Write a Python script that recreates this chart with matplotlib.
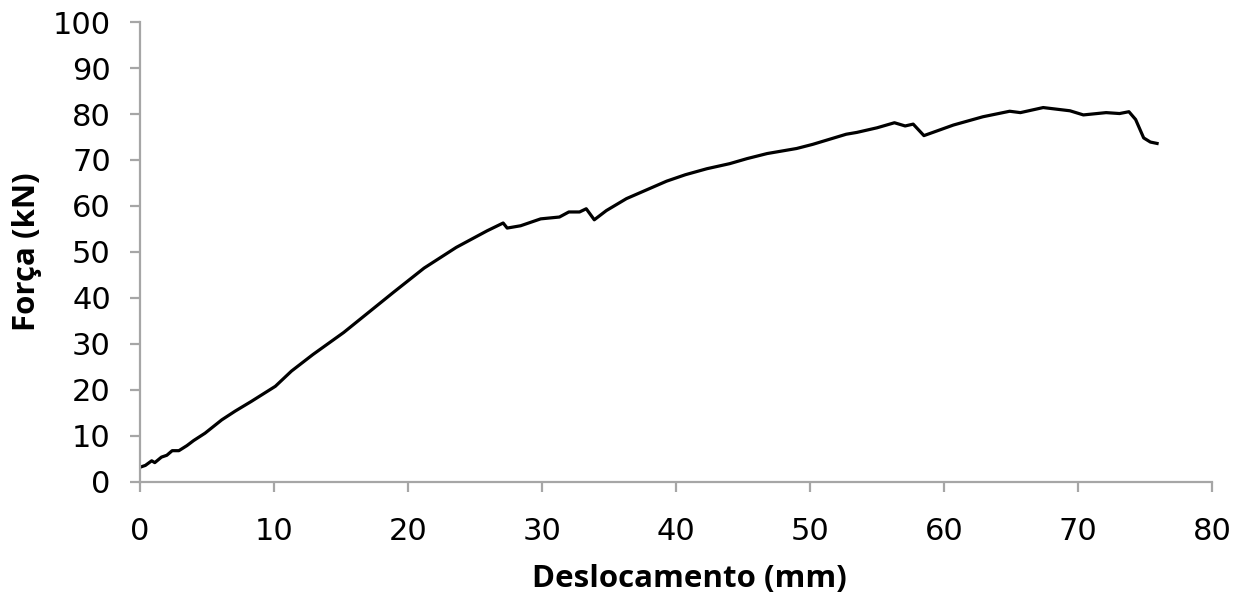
import matplotlib
matplotlib.use("Agg")
import matplotlib.pyplot as plt

desloc = [0.0, 0.4, 0.87, 1.1, 1.6, 2.0, 2.4, 2.9, 3.5, 4.0, 4.85, 6.1, 7.1, 8.3, 10.1,
          11.3, 12.9, 15.2, 17.2, 18.9, 21.2, 23.6, 25.9, 27.1, 27.4, 28.4, 29.9, 31.3,
          32.0, 32.8, 33.3, 33.9, 34.8, 36.3, 37.8, 39.3, 40.7, 42.3, 44.0, 45.3, 46.8,
          49.0, 50.2, 52.7, 53.5, 55.0, 56.3, 57.1, 57.7, 58.5, 60.7, 62.9, 64.9, 65.7,
          67.4, 69.4, 70.4, 72.1, 73.1, 73.8, 74.3, 74.9, 75.4, 75.9]
forca = [3.2, 3.6, 4.6, 4.2, 5.4, 5.8, 6.8, 6.8, 7.9, 9.0, 10.6, 13.5, 15.4, 17.5, 20.8,
         24.1, 27.7, 32.5, 37.2, 41.2, 46.5, 51.0, 54.6, 56.3, 55.2, 55.7, 57.2, 57.6,
         58.7, 58.7, 59.4, 57.0, 59.0, 61.6, 63.5, 65.4, 66.8, 68.1, 69.2, 70.3, 71.4,
         72.5, 73.4, 75.6, 76.0, 77.0, 78.1, 77.4, 77.8, 75.3, 77.6, 79.4, 80.6, 80.3,
         81.4, 80.7, 79.8, 80.3, 80.1, 80.5, 78.8, 74.8, 73.9, 73.6]

x_ticks = [0, 10, 20, 30, 40, 50, 60, 70, 80]
y_ticks = [0, 10, 20, 30, 40, 50, 60, 70, 80, 90, 100]

fig = plt.figure(figsize=(12.37, 5.95), dpi=100)
ax = fig.add_axes([0.1132, 0.190, 0.8666, 0.773])
ax.plot(desloc, forca, color="black", linewidth=2.3, solid_joinstyle="round")
ax.set_xlim(0, 80)
ax.set_ylim(0, 100)
ax.set_xticks(x_ticks)
ax.set_yticks(y_ticks)
for s in ["top", "right"]:
    ax.spines[s].set_visible(False)
for s in ["left", "bottom"]:
    ax.spines[s].set_color("#a6a6a6")
    ax.spines[s].set_linewidth(1.6)
ax.tick_params(axis="both", colors="#a6a6a6", width=1.6, length=7, direction="out",
               labelcolor="black", labelsize=22)
ax.tick_params(axis="y", pad=14)
ax.tick_params(axis="x", pad=18)
ax.set_xlabel("Deslocamento (mm)", fontsize=22.5, fontweight="bold", family="Open Sans", labelpad=13)
ax.xaxis.label.set_x(0.512)
ax.set_ylabel("Força (kN)", fontsize=22.5, fontweight="bold", family="Open Sans", labelpad=8)
fig.savefig("out.png", dpi=100)
